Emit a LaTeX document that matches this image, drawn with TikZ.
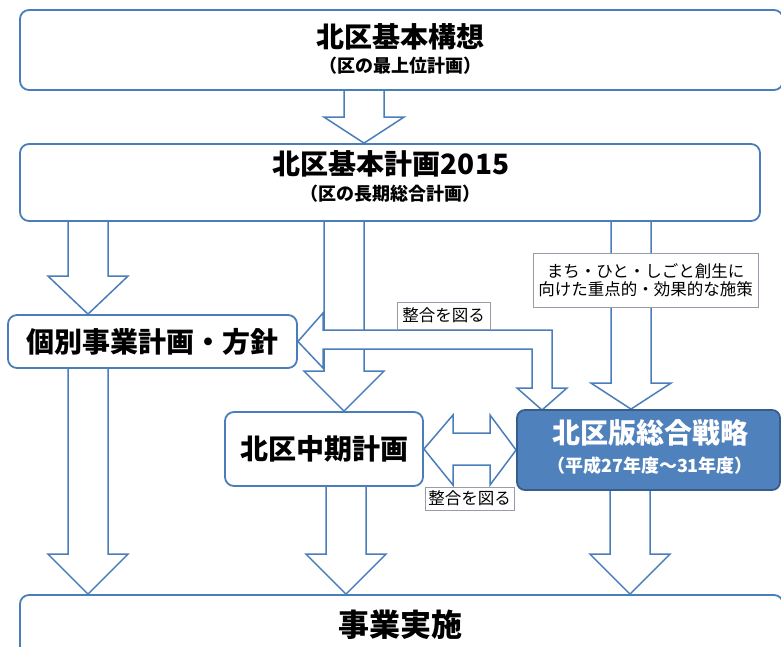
\documentclass[tikz,border=0pt]{standalone}
\usepackage{fontspec}
\setmainfont{Noto Sans CJK JP}
\usetikzlibrary{calc}
\definecolor{lineblue}{RGB}{74,126,187}
\definecolor{fillblue}{RGB}{79,129,189}
\definecolor{darkblue}{RGB}{56,93,138}
\definecolor{labelgray}{RGB}{150,156,168}
\pgfdeclarelayer{bg}
\pgfsetlayers{bg,main}
\tikzset{
 box/.style={draw=lineblue, line width=1.8pt, rounded corners=9pt, fill=white, inner sep=0pt},
 bluebox/.style={draw=darkblue, line width=1.8pt, rounded corners=8pt, fill=fillblue, inner sep=0pt},
 barrow/.style={draw=lineblue, line width=1.5pt, fill=white, line join=miter},
 tagbox/.style={draw=labelgray, line width=0.9pt, fill=white, inner sep=0pt},
 bigtext/.style={font=\fontsize{28}{32}\selectfont\bfseries, inner sep=0pt},
 subtext/.style={font=\fontsize{18}{21}\selectfont\bfseries, inner sep=0pt},
 smalltext/.style={font=\fontsize{16.5}{18}\selectfont, inner sep=0pt, align=center},
}
% vertical block arrow: x centre, source node, target node, head length
\newcommand\vbarrow[4]{%
  \draw[barrow] let \p1=(#2.south), \p2=(#3.north) in
   ({#1pt-20pt},\y1) -- ({#1pt-20pt},{\y2+#4pt}) -- ({#1pt-40pt},{\y2+#4pt})
   -- (#1pt,\y2) -- ({#1pt+40pt},{\y2+#4pt}) -- ({#1pt+20pt},{\y2+#4pt})
   -- ({#1pt+20pt},\y1);}
\begin{document}
\begin{tikzpicture}[x=1pt,y=-1pt]
\useasboundingbox (0,0) rectangle (781,646);
\clip (0,0) rectangle (781,646);

% boxes
\node[box, minimum width=763, minimum height=80] (vision) at (401.5,50) {};
\node[bigtext] (visiont) at (400,37) {北区基本構想};
\node[subtext] (visions) at (400,66) {（区の最上位計画）};

\node[box, minimum width=740, minimum height=77] (plan) at (390,182.5) {};
\node[bigtext] (plant) at (391,164) {北区基本計画2015};
\node[subtext] (plans) at (390,194) {（区の長期総合計画）};

\node[box, minimum width=289, minimum height=53, bigtext] (kobetsu) at (152.5,341.5) {個別事業計画・方針};

\node[box, minimum width=198, minimum height=74, bigtext] (chuki) at (324,449) {北区中期計画};

\node[bluebox, minimum width=263, minimum height=80] (senryaku) at (648.5,450) {};
\node[bigtext, text=white] (senryakut) at (650,433) {北区版総合戦略};
\node[subtext, text=white] (senryakus) at (650,466) {（平成27年度～31年度）};

\node[box, minimum width=763, minimum height=75] (jisshi) at (401.5,632.5) {};
\node[bigtext, font=\fontsize{31}{34}\selectfont\bfseries] (jisshit) at (400,625) {事業実施};

% labels
\node[tagbox, minimum width=225, minimum height=54] (machi) at (645.5,280) {};
\node[smalltext] (machit) at (645.5,280) {まち・ひと・しごと創生に\\向けた重点的・効果的な施策};
\node[tagbox, minimum width=93, minimum height=27, smalltext] (tag1) at (443.5,315.5) {整合を図る};
\node[tagbox, minimum width=89, minimum height=23, smalltext] (tag2) at (469.5,498.5) {整合を図る};

% block arrows
\begin{pgfonlayer}{bg}
\vbarrow{364}{vision}{plan}{26}
\vbarrow{88}{plan}{kobetsu}{38}
\vbarrow{344}{plan}{chuki}{40}
\vbarrow{631}{plan}{senryaku}{26}
\vbarrow{88}{kobetsu}{jisshi}{40}
\vbarrow{346}{chuki}{jisshi}{40}
\vbarrow{630}{senryaku}{jisshi}{40}
% bent two-headed arrow
\draw[barrow] (kobetsu.east) -- (323,313) -- (323,330) -- (552,330) -- (552,388)
  -- (567,388) -- (542,410) -- (517,388) -- (532,388) -- (532,349)
  -- (323,349) -- (323,368) -- cycle;
% horizontal two-headed arrow
\draw[barrow] (chuki.east) -- (453,415) -- (453,433) -- (490,433) -- (490,415)
  -- (senryaku.west) -- (490,485) -- (490,465) -- (453,465) -- (453,485) -- cycle;
\end{pgfonlayer}
\end{tikzpicture}
\end{document}
